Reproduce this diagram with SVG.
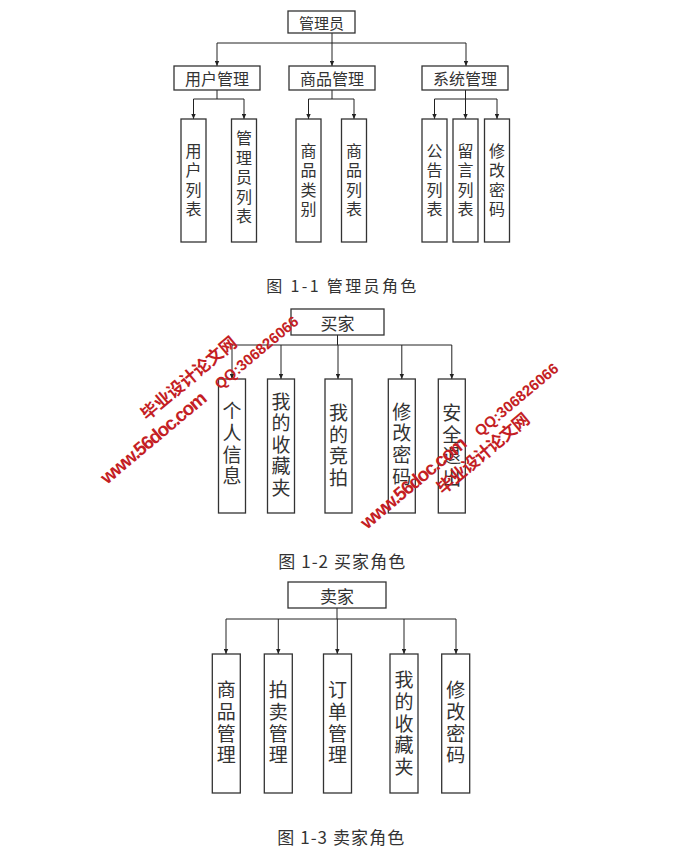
<svg xmlns="http://www.w3.org/2000/svg" width="688" height="868" viewBox="0 0 688 868">
<style>
.box{fill:#fff;stroke:#333;stroke-width:1.3}
.ln{stroke:#222;stroke-width:1;fill:none}
.ar{stroke:#222;stroke-width:1;fill:none;marker-end:url(#ah)}
.t{font-family:"Noto Sans CJK SC","Noto Sans",sans-serif;fill:#333;text-anchor:middle;dominant-baseline:central}
.v{font-family:"Noto Sans CJK SC","Noto Sans",sans-serif;fill:#333;text-anchor:middle;writing-mode:vertical-rl;text-orientation:upright}
.t1{font-size:15px}
.t2{font-size:16px}
.t3{font-size:17px}
.v2{font-size:16px;letter-spacing:3.5px}
.v4{font-size:19px;letter-spacing:2.6px}
.cap{font-family:"Noto Sans CJK SC","Liberation Mono",monospace;fill:#333;text-anchor:middle;dominant-baseline:central}
.wm{font-family:"Liberation Sans","Noto Sans CJK SC",sans-serif;fill:#c41e24;font-weight:bold}
</style>
<defs>
<marker id="ah" viewBox="0 0 5 5" refX="5" refY="2.5" markerWidth="5" markerHeight="5" markerUnits="userSpaceOnUse" orient="auto">
<path d="M0,0.3 L5,2.5 L0,4.7 z" fill="#222"/>
</marker>
</defs>
<rect width="688" height="868" fill="#fff"/>

<!-- ===== Diagram 1 ===== -->
<g id="connectors1">
<line class="ln" x1="332" y1="33" x2="332" y2="43" stroke-width="2"/>
<line class="ln" x1="217" y1="43" x2="466" y2="43"/>
<line class="ar" x1="217" y1="43" x2="217" y2="66"/>
<line class="ar" x1="332" y1="43" x2="332" y2="66"/>
<line class="ar" x1="466" y1="43" x2="466" y2="66"/>
<line class="ln" x1="217" y1="90" x2="217" y2="99"/>
<line class="ln" x1="193.5" y1="99" x2="244" y2="99"/>
<line class="ar" x1="193.5" y1="99" x2="193.5" y2="119"/>
<line class="ar" x1="244" y1="99" x2="244" y2="119"/>
<line class="ln" x1="332" y1="90" x2="332" y2="99" stroke-width="2"/>
<line class="ln" x1="308.5" y1="99" x2="354" y2="99"/>
<line class="ar" x1="308.5" y1="99" x2="308.5" y2="119"/>
<line class="ar" x1="354" y1="99" x2="354" y2="119"/>
<line class="ln" x1="465.5" y1="90" x2="465.5" y2="99" stroke-width="2"/>
<line class="ln" x1="434.5" y1="99" x2="497" y2="99"/>
<line class="ar" x1="434.5" y1="99" x2="434.5" y2="119"/>
<line class="ar" x1="465.5" y1="99" x2="465.5" y2="119"/>
<line class="ar" x1="497" y1="99" x2="497" y2="119"/>
</g>
<g id="n-admin"><rect class="box" x="288" y="11" width="67" height="22"/><text class="t t1" x="321.5" y="22">管理员</text></g>
<g id="n-usermgmt"><rect class="box" x="174" y="66" width="86" height="24"/><text class="t t2" x="217" y="78">用户管理</text></g>
<g id="n-goodsmgmt"><rect class="box" x="289" y="66" width="86" height="24"/><text class="t t2" x="332" y="78">商品管理</text></g>
<g id="n-sysmgmt"><rect class="box" x="422" y="66" width="86" height="24"/><text class="t t2" x="465" y="78">系统管理</text></g>
<g id="n-userlist"><rect class="box" x="181" y="119" width="25" height="123"/><text class="v v2" x="193.5" y="181.5">用户列表</text></g>
<g id="n-adminlist"><rect class="box" x="231.5" y="119" width="25" height="123"/><text class="v v2" x="244" y="179">管理员列表</text></g>
<g id="n-goodscat"><rect class="box" x="296" y="119" width="25" height="123"/><text class="v v2" x="308.5" y="181.5">商品类别</text></g>
<g id="n-goodslist"><rect class="box" x="341.5" y="119" width="25" height="123"/><text class="v v2" x="354" y="181.5">商品列表</text></g>
<g id="n-notice"><rect class="box" x="422" y="119" width="25" height="123"/><text class="v v2" x="434.5" y="181.5">公告列表</text></g>
<g id="n-msg"><rect class="box" x="453" y="119" width="25" height="123"/><text class="v v2" x="465.5" y="181.5">留言列表</text></g>
<g id="n-pwd1"><rect class="box" x="484.5" y="119" width="25" height="123"/><text class="v v2" x="497" y="181.5">修改密码</text></g>
<text class="cap" x="341.3" y="285" font-size="16" textLength="150" lengthAdjust="spacing" xml:space="preserve">图 1-1 管理员角色</text>

<!-- ===== Diagram 2 ===== -->
<g id="connectors2">
<line class="ln" x1="337.5" y1="335" x2="337.5" y2="345" stroke-width="2"/>
<line class="ln" x1="232" y1="345" x2="451.8" y2="345"/>
<line class="ar" x1="232" y1="345" x2="232" y2="379"/>
<line class="ar" x1="281" y1="345" x2="281" y2="379"/>
<line class="ar" x1="338" y1="345" x2="338" y2="379"/>
<line class="ar" x1="401.8" y1="345" x2="401.8" y2="379"/>
<line class="ar" x1="451.8" y1="345" x2="451.8" y2="379"/>
</g>
<g id="n-buyer"><rect class="box" x="291" y="309" width="93" height="26"/><text class="t t3" x="337.5" y="322">买家</text></g>
<g id="n-info"><rect class="box" x="218.5" y="379" width="27" height="134"/><text class="v v4" x="232" y="444.8">个人信息</text></g>
<g id="n-fav1"><rect class="box" x="267.5" y="379" width="27" height="134"/><text class="v v4" x="281" y="445.8">我的收藏夹</text></g>
<g id="n-bid"><rect class="box" x="325" y="379" width="27" height="134"/><text class="v v4" x="338.5" y="446.5">我的竞拍</text></g>
<g id="n-pwd2"><rect class="box" x="388.3" y="379" width="27" height="134"/><text class="v v4" x="401.8" y="445.3">修改密码</text></g>
<g id="n-logout"><rect class="box" x="438.3" y="379" width="27" height="134"/><text class="v v4" x="451.8" y="446.5">安全退出</text></g>
<text class="cap" x="341.7" y="560" font-size="17" textLength="127" lengthAdjust="spacing" xml:space="preserve">图 1-2 买家角色</text>

<!-- ===== Diagram 3 ===== -->
<g id="connectors3">
<line class="ln" x1="337" y1="608" x2="337" y2="619" stroke-width="2"/>
<line class="ln" x1="226" y1="619" x2="456" y2="619"/>
<line class="ar" x1="226" y1="619" x2="226" y2="654"/>
<line class="ar" x1="278.3" y1="619" x2="278.3" y2="654"/>
<line class="ar" x1="337.3" y1="619" x2="337.3" y2="654"/>
<line class="ar" x1="404" y1="619" x2="404" y2="654"/>
<line class="ar" x1="456" y1="619" x2="456" y2="654"/>
</g>
<g id="n-seller"><rect class="box" x="288" y="582" width="98" height="26"/><text class="t t3" x="337" y="595">卖家</text></g>
<g id="n-goods3"><rect class="box" x="212.3" y="654" width="28" height="139"/><text class="v v4" x="226.3" y="723.8">商品管理</text></g>
<g id="n-auction"><rect class="box" x="264.3" y="654" width="28" height="139"/><text class="v v4" x="278.3" y="723.8">拍卖管理</text></g>
<g id="n-order"><rect class="box" x="323.5" y="654" width="28" height="139"/><text class="v v4" x="337.5" y="723.8">订单管理</text></g>
<g id="n-fav3"><rect class="box" x="390" y="654" width="28" height="139"/><text class="v v4" x="404" y="724.6">我的收藏夹</text></g>
<g id="n-pwd3"><rect class="box" x="441.7" y="654" width="28" height="139"/><text class="v v4" x="455.7" y="723.8">修改密码</text></g>
<text class="cap" x="340.7" y="836.7" font-size="17" textLength="127" lengthAdjust="spacing" xml:space="preserve">图 1-3 卖家角色</text>

<!-- ===== Watermarks ===== -->
<g id="watermark1">
<text class="wm" x="147" y="421" font-size="17" textLength="119" lengthAdjust="spacing" transform="rotate(-40 147 421)">毕业设计论文网</text>
<text class="wm" x="107" y="485" font-size="19" textLength="132" lengthAdjust="spacing" transform="rotate(-40 107 485)">www.56doc.com</text>
<text class="wm" x="220" y="390" font-size="15" textLength="104" lengthAdjust="spacing" transform="rotate(-40 220 390)">QQ:306826066</text>
</g>
<g id="watermark2">
<text class="wm" x="443" y="495" font-size="17" textLength="115" lengthAdjust="spacing" transform="rotate(-40 443 495)">毕业设计论文网</text>
<text class="wm" x="367" y="530" font-size="19" textLength="132" lengthAdjust="spacing" transform="rotate(-40 367 530)">www.56doc.com</text>
<text class="wm" x="480" y="437" font-size="15" textLength="104" lengthAdjust="spacing" transform="rotate(-40 480 437)">QQ:306826066</text>
</g>
</svg>
